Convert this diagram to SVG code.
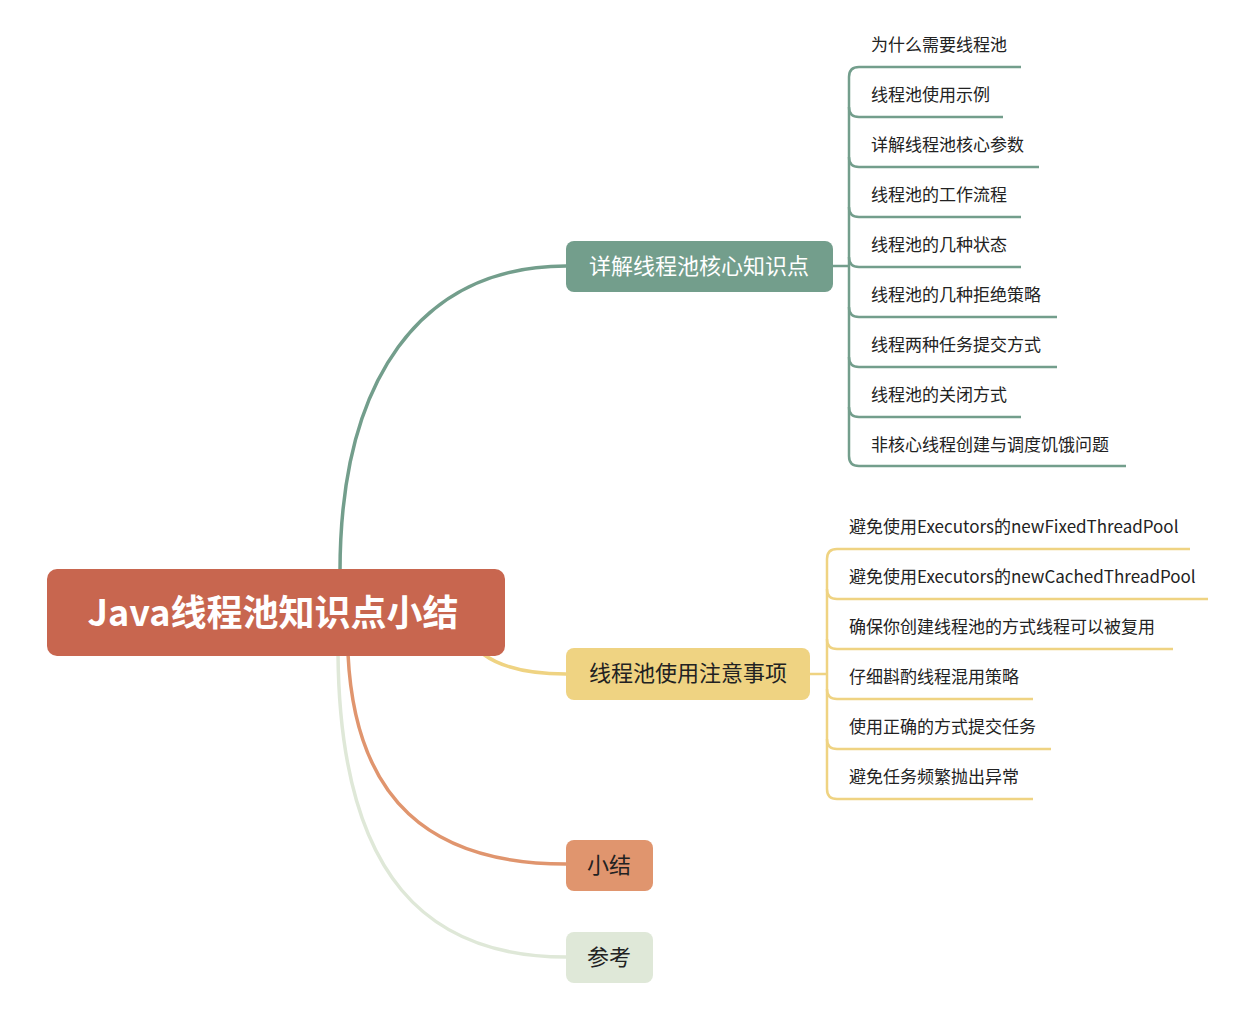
<svg xmlns="http://www.w3.org/2000/svg" width="1260" height="1036" viewBox="0 0 1260 1036">
<style>
text{font-family:"Noto Sans CJK SC","Liberation Sans",sans-serif}
.leaf{font-size:17px;fill:#222}
.g{stroke:#739E8C;stroke-width:2.5;fill:none}
.y{stroke:#EFD382;stroke-width:2.5;fill:none}
</style>
<rect width="1260" height="1036" fill="#fff"/>
<g id="connectors" fill="none">
<path d="M340,572 C340,380 420,266 566,266" stroke="#739E8C" stroke-width="3.5"/>
<path d="M483,654 Q510,674 566,674" stroke="#EFD382" stroke-width="3.5"/>
<path d="M348,654 C355,800 430,864 566,864" stroke="#E0956E" stroke-width="3.5"/>
<path d="M338,654 C340,880 430,957 566,957" stroke="#DFE8D8" stroke-width="3.5"/>
<path class="g" d="M833,266 H849"/>
<path class="g" d="M1021,67 H859 Q849,67 849,77 V456 Q849,466 859,466 H1126"/>
<path class="g" d="M849,107 Q849,117 859,117 H1003 M849,157 Q849,167 859,167 H1039 M849,207 Q849,217 859,217 H1021 M849,257 Q849,267 859,267 H1021 M849,307 Q849,317 859,317 H1057 M849,357 Q849,367 859,367 H1057 M849,407 Q849,417 859,417 H1021"/>
<path class="y" d="M810,674 H827"/>
<path class="y" d="M1190,549 H837 Q827,549 827,559 V789 Q827,799 837,799 H1033"/>
<path class="y" d="M827,589 Q827,599 837,599 H1208 M827,639 Q827,649 837,649 H1173 M827,689 Q827,699 837,699 H1033 M827,739 Q827,749 837,749 H1051"/>
</g>
<g id="root"><rect x="47" y="569" width="458" height="87" rx="10" fill="#C8664F"/><text x="273" y="626" text-anchor="middle" font-size="36" font-weight="bold" fill="#fff">Java线程池知识点小结</text></g>
<g id="n1"><rect x="566" y="241" width="267" height="51" rx="8" fill="#739E8C"/><text x="699" y="274" text-anchor="middle" font-size="22" fill="#fff">详解线程池核心知识点</text></g>
<g id="n2"><rect x="566" y="648" width="244" height="52" rx="8" fill="#EFD382"/><text x="688" y="681" text-anchor="middle" font-size="22" fill="#222">线程池使用注意事项</text></g>
<g id="n3"><rect x="566" y="840" width="87" height="51" rx="8" fill="#E0956E"/><text x="609" y="873" text-anchor="middle" font-size="22" fill="#222">小结</text></g>
<g id="n4"><rect x="566" y="932" width="87" height="51" rx="8" fill="#DFE8D8"/><text x="609" y="965" text-anchor="middle" font-size="22" fill="#222">参考</text></g>
<g id="leaves1" class="leaf">
<text class="leaf" x="871" y="51">为什么需要线程池</text>
<text class="leaf" x="871" y="101">线程池使用示例</text>
<text class="leaf" x="871" y="151">详解线程池核心参数</text>
<text class="leaf" x="871" y="201">线程池的工作流程</text>
<text class="leaf" x="871" y="251">线程池的几种状态</text>
<text class="leaf" x="871" y="301">线程池的几种拒绝策略</text>
<text class="leaf" x="871" y="351">线程两种任务提交方式</text>
<text class="leaf" x="871" y="401">线程池的关闭方式</text>
<text class="leaf" x="871" y="451">非核心线程创建与调度饥饿问题</text>
</g>
<g id="leaves2">
<text class="leaf" x="849" y="533">避免使用Executors的newFixedThreadPool</text>
<text class="leaf" x="849" y="583">避免使用Executors的newCachedThreadPool</text>
<text class="leaf" x="849" y="633">确保你创建线程池的方式线程可以被复用</text>
<text class="leaf" x="849" y="683">仔细斟酌线程混用策略</text>
<text class="leaf" x="849" y="733">使用正确的方式提交任务</text>
<text class="leaf" x="849" y="783">避免任务频繁抛出异常</text>
</g>
</svg>
